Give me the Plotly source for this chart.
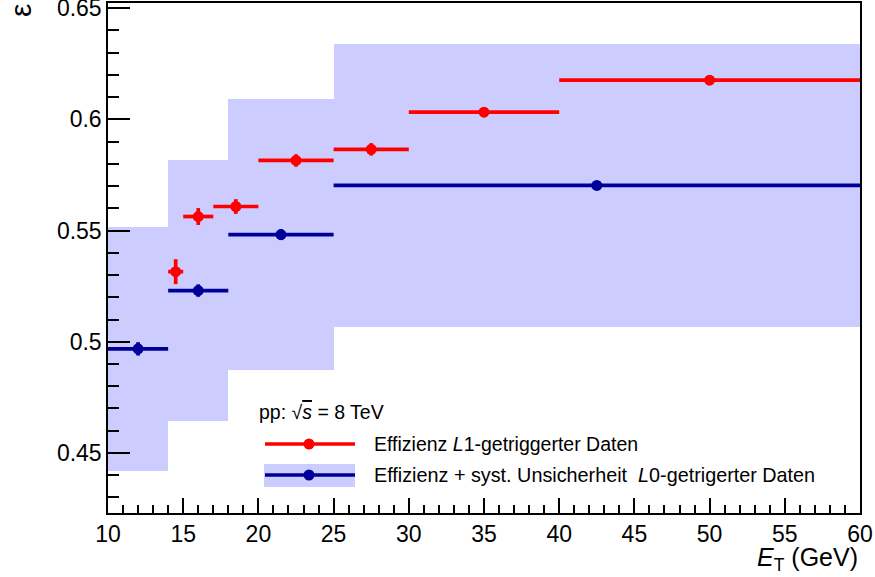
import plotly.graph_objects as go

# L1-triggered efficiency (red)
l1_lo = [14, 15, 17, 20, 25, 30, 40]
l1_hi = [15, 17, 20, 25, 30, 40, 60]
l1_eff = [0.5315, 0.5563, 0.5608, 0.5815, 0.5865, 0.6032, 0.6176]
l1_err = [0.0056, 0.0038, 0.0033, 0.0028, 0.0028, 0.0018, 0.0012]

# L0-triggered efficiency (blue) + systematic uncertainty band
l0_lo = [10, 14, 18, 25]
l0_hi = [14, 18, 25, 60]
l0_eff = [0.4968, 0.5230, 0.5482, 0.5703]
l0_err = [0.0030, 0.0028, 0.0025, 0.0012]
l0_syst = [0.0550, 0.0585, 0.0608, 0.0635]

x_ticks = [10, 15, 20, 25, 30, 35, 40, 45, 50, 55, 60]
y_ticks = [0.45, 0.5, 0.55, 0.6, 0.65]

RED = "#ff0000"
BLUE = "#000099"
BAND = "#ccccff"
FONT = "Liberation Sans, Arial, sans-serif"

def centers(lo, hi):
    return [(a + b) / 2 for a, b in zip(lo, hi)]

def halfw(lo, hi):
    return [(b - a) / 2 for a, b in zip(lo, hi)]

fig = go.Figure()

# systematic band
fig.add_trace(go.Bar(
    x=l0_lo, y=[2 * s for s in l0_syst],
    base=[e - s for e, s in zip(l0_eff, l0_syst)],
    width=[b - a for a, b in zip(l0_lo, l0_hi)], offset=0,
    marker=dict(color=BAND, line=dict(width=0)), showlegend=False,
))

fig.add_trace(go.Scatter(
    x=centers(l0_lo, l0_hi), y=l0_eff, mode="markers",
    marker=dict(color=BLUE, size=11),
    error_x=dict(type="data", array=halfw(l0_lo, l0_hi), color=BLUE, thickness=3.7, width=0),
    error_y=dict(type="data", array=l0_err, color=BLUE, thickness=3.7, width=0),
    showlegend=False,
))

fig.add_trace(go.Scatter(
    x=centers(l1_lo, l1_hi), y=l1_eff, mode="markers",
    marker=dict(color=RED, size=11),
    error_x=dict(type="data", array=halfw(l1_lo, l1_hi), color=RED, thickness=3.7, width=0),
    error_y=dict(type="data", array=l1_err, color=RED, thickness=3.7, width=0),
    showlegend=False,
))

L, R, T, B = 108, 860, 3, 513
def px(x):
    return (x - L) / (R - L)
def py(y):
    return (B - y) / (B - T)

shapes = [
    # legend entries
    dict(type="rect", xref="paper", yref="paper", x0=px(264), x1=px(355), y0=py(487), y1=py(464),
         fillcolor=BAND, line=dict(width=0), layer="above"),
    dict(type="line", xref="paper", yref="paper", x0=px(265), x1=px(355), y0=py(444), y1=py(444),
         line=dict(color=RED, width=3.7)),
    dict(type="circle", xref="paper", yref="paper", x0=px(303.5), x1=px(314.5), y0=py(449.5), y1=py(438.5),
         fillcolor=RED, line=dict(width=0)),
    dict(type="line", xref="paper", yref="paper", x0=px(265), x1=px(355), y0=py(475), y1=py(475),
         line=dict(color=BLUE, width=3.7)),
    dict(type="circle", xref="paper", yref="paper", x0=px(303.5), x1=px(314.5), y0=py(480.5), y1=py(469.5),
         fillcolor=BLUE, line=dict(width=0)),
]

annotations = [
    dict(text="pp: √<span style='text-decoration:overline'><i>s</i></span> = 8 TeV", xref="paper", yref="paper",
         x=px(257), y=py(412), xanchor="left", yanchor="middle", showarrow=False,
         font=dict(family=FONT, size=19.5, color="black")),
    dict(text="Effizienz <i>L</i>1-getriggerter Daten", xref="paper", yref="paper",
         x=px(372), y=py(444), xanchor="left", yanchor="middle", showarrow=False,
         font=dict(family=FONT, size=19.5, color="black")),
    dict(text="Effizienz + syst. Unsicherheit  <i>L</i>0-getrigerter Daten", xref="paper", yref="paper",
         x=px(372), y=py(475), xanchor="left", yanchor="middle", showarrow=False,
         font=dict(family=FONT, size=19.8, color="black")),
    dict(text="<i>E</i><sub>T</sub> (GeV)", xref="paper", yref="paper",
         x=1.0, y=py(559), xanchor="right", yanchor="middle", showarrow=False,
         font=dict(family=FONT, size=25, color="black")),
    dict(text="ε", xref="paper", yref="paper", textangle=-90,
         x=px(20), y=py(11), xanchor="center", yanchor="middle", showarrow=False,
         font=dict(family=FONT, size=30, color="black")),
]

fig.update_layout(
    width=875, height=577,
    margin=dict(l=L, r=875 - R, t=T, b=577 - B),
    paper_bgcolor="white", plot_bgcolor="white",
    barmode="overlay", bargap=0,
    showlegend=False,
    shapes=shapes, annotations=annotations,
    font=dict(family=FONT, size=23, color="black"),
    xaxis=dict(range=[10, 60], tickvals=x_ticks, ticks="inside", ticklen=15, tickwidth=1.5,
               tickcolor="black", showgrid=False, zeroline=False, showline=True, linecolor="black",
               linewidth=1.5, mirror=True, automargin=False,
               minor=dict(dtick=1, ticks="inside", ticklen=8, tickwidth=1.5, tickcolor="black", showgrid=False),
               tickfont=dict(family=FONT, size=23)),
    yaxis=dict(range=[0.423, 0.6523], tickvals=y_ticks, ticktext=["0.45", "0.5", "0.55", "0.6", "0.65"],
               ticks="inside", ticklen=22, tickwidth=1.5, ticklabeloverflow="allow",
               tickcolor="black", showgrid=False, zeroline=False, showline=True, linecolor="black",
               linewidth=1.5, mirror=True, automargin=False,
               minor=dict(dtick=0.01, tick0=0.45, ticks="inside", ticklen=11, tickwidth=1.5, tickcolor="black", showgrid=False),
               tickfont=dict(family=FONT, size=23)),
)

fig.write_html("out.html")
